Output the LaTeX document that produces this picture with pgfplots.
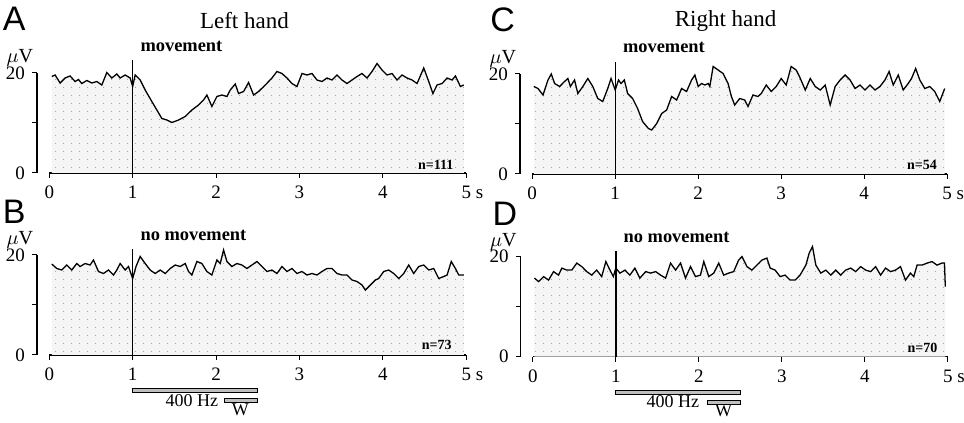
\documentclass[border=0pt]{standalone}
\usepackage{fontspec}
\setmainfont{Liberation Serif}
\newfontfamily\panelfont{Liberation Sans}
\usepackage{pgfplots}
\usepackage{pgfplotstable}
\pgfplotsset{compat=1.18}
\usetikzlibrary{patterns.meta}

% EEG traces, t (s) vs amplitude (muV)
\pgfplotstableread{
t v
0.03 19.3
0.07 19.6
0.13 18.0
0.19 19.0
0.25 19.4
0.31 18.3
0.35 18.7
0.39 17.9
0.45 18.5
0.51 18.0
0.57 18.3
0.63 17.6
0.69 20.1
0.75 19.0
0.81 19.8
0.85 19.0
0.91 19.6
0.97 19.0
1.00 17.3
1.03 19.6
1.09 18.6
1.15 16.6
1.23 14.3
1.29 12.6
1.35 10.9
1.41 10.6
1.47 10.1
1.55 10.6
1.63 11.3
1.71 12.6
1.79 13.6
1.85 14.6
1.89 15.6
1.95 13.3
2.01 15.3
2.07 15.6
2.13 15.3
2.17 16.6
2.23 17.8
2.27 15.9
2.33 16.3
2.39 18.1
2.45 15.6
2.51 16.3
2.59 17.6
2.67 19.0
2.73 20.3
2.79 19.9
2.85 19.0
2.91 17.9
2.97 17.3
3.03 19.9
3.09 19.6
3.15 19.9
3.21 18.6
3.27 18.3
3.33 19.0
3.39 18.6
3.45 19.6
3.51 18.6
3.57 17.9
3.63 18.6
3.69 19.3
3.75 19.9
3.81 19.0
3.87 20.3
3.93 21.9
3.99 20.6
4.05 19.6
4.11 19.9
4.17 18.6
4.23 19.6
4.29 19.0
4.35 18.6
4.41 17.9
4.49 21.0
4.55 18.3
4.60 15.9
4.65 17.6
4.71 17.9
4.77 19.0
4.83 18.6
4.87 19.4
4.93 17.3
4.97 17.6
}\dataA

\pgfplotstableread{
t v
0.03 18.2
0.09 17.3
0.15 17.0
0.21 18.0
0.27 17.0
0.33 18.3
0.37 17.7
0.43 18.3
0.49 18.0
0.53 19.0
0.59 16.7
0.65 16.3
0.71 17.0
0.77 16.0
0.81 17.0
0.85 18.3
0.91 17.0
0.95 17.7
1.00 15.3
1.04 17.7
1.09 19.7
1.15 18.3
1.21 17.0
1.27 16.3
1.33 17.0
1.39 16.3
1.45 17.3
1.51 18.0
1.57 17.7
1.63 18.3
1.67 16.7
1.71 16.0
1.77 18.7
1.83 18.3
1.89 16.7
1.95 16.0
2.01 19.0
2.05 18.3
2.09 21.0
2.13 18.7
2.19 17.7
2.25 18.3
2.31 18.0
2.37 17.3
2.43 18.0
2.49 18.7
2.55 17.7
2.61 16.7
2.67 17.0
2.73 16.3
2.79 17.7
2.85 16.7
2.91 17.3
2.97 16.3
3.03 16.7
3.09 16.0
3.15 16.3
3.21 16.0
3.27 16.7
3.33 17.3
3.39 17.3
3.45 16.3
3.51 16.0
3.57 16.0
3.63 15.0
3.69 14.7
3.75 14.0
3.79 13.0
3.85 14.0
3.91 15.0
3.95 15.3
4.01 16.7
4.07 17.0
4.13 16.3
4.19 15.3
4.25 16.3
4.31 18.0
4.37 16.3
4.43 17.7
4.49 18.0
4.55 17.0
4.61 17.3
4.67 15.3
4.73 15.7
4.77 16.0
4.82 18.7
4.87 17.3
4.91 16.0
4.97 16.0
}\dataB

\pgfplotstableread{
t v
0.02 17.5
0.07 17.1
0.13 15.8
0.19 18.8
0.23 20.0
0.27 18.1
0.33 17.5
0.39 18.5
0.43 19.1
0.46 17.5
0.51 18.8
0.55 16.1
0.61 17.5
0.67 19.1
0.73 17.5
0.79 15.1
0.85 14.5
0.91 17.1
0.95 19.1
1.00 16.8
1.04 18.8
1.07 18.1
1.11 18.8
1.15 16.1
1.21 15.1
1.27 13.1
1.33 10.5
1.40 9.1
1.44 8.8
1.50 10.1
1.56 12.1
1.62 12.8
1.68 15.5
1.74 14.8
1.80 17.1
1.86 16.5
1.92 18.8
1.96 19.8
2.00 17.5
2.04 18.1
2.08 17.8
2.12 18.1
2.14 17.5
2.18 21.5
2.24 20.8
2.30 20.1
2.36 18.1
2.40 15.5
2.44 13.8
2.50 15.1
2.56 14.8
2.60 13.5
2.66 15.8
2.72 15.5
2.76 16.1
2.82 17.8
2.88 16.5
2.94 17.5
3.00 19.1
3.06 17.8
3.12 21.5
3.18 20.8
3.22 19.5
3.29 16.8
3.35 19.1
3.41 17.5
3.47 16.8
3.53 17.8
3.59 13.8
3.65 17.5
3.71 18.8
3.77 19.8
3.83 18.8
3.89 17.1
3.95 17.8
4.01 16.8
4.07 17.8
4.13 16.8
4.19 17.5
4.25 18.8
4.30 20.5
4.35 17.8
4.41 19.8
4.47 16.8
4.53 18.1
4.57 19.1
4.62 21.1
4.67 18.8
4.73 17.1
4.79 17.5
4.85 16.5
4.91 14.5
4.97 17.1
}\dataC

\pgfplotstableread{
t v
0.02 15.7
0.07 15.0
0.13 16.0
0.19 15.3
0.25 17.0
0.31 16.3
0.35 17.7
0.41 17.3
0.47 17.3
0.53 18.7
0.59 18.0
0.65 17.0
0.71 16.3
0.77 17.3
0.83 16.0
0.88 19.0
0.93 17.3
0.97 16.0
1.00 17.7
1.05 16.7
1.11 17.3
1.17 16.3
1.23 17.7
1.29 15.7
1.36 17.0
1.42 16.7
1.48 17.0
1.54 16.3
1.60 15.7
1.66 18.7
1.72 17.3
1.78 18.7
1.84 15.7
1.90 18.0
1.96 16.0
2.02 16.3
2.06 19.0
2.12 16.0
2.18 16.7
2.24 18.7
2.30 16.3
2.36 16.7
2.42 17.0
2.48 19.3
2.52 20.0
2.58 18.0
2.64 17.3
2.70 18.3
2.76 19.3
2.82 19.7
2.86 17.7
2.92 17.3
2.98 16.0
3.04 16.3
3.10 15.3
3.16 15.3
3.22 16.3
3.29 18.3
3.33 20.7
3.37 22.0
3.41 18.3
3.47 16.7
3.53 17.3
3.59 16.3
3.65 17.3
3.71 16.3
3.77 17.3
3.83 17.7
3.89 17.0
3.95 18.0
4.01 17.3
4.07 17.0
4.13 18.0
4.19 16.3
4.25 17.7
4.31 17.0
4.37 17.3
4.43 18.0
4.49 15.3
4.55 16.7
4.59 16.0
4.63 18.3
4.69 18.3
4.75 18.7
4.81 19.0
4.87 18.3
4.93 18.7
4.96 18.7
4.97 14.0
}\dataD

\pgfplotsset{
  eeg/.style={
    y=2.5pt, xmin=-0.147, xmax=5, ymin=0, ymax=20,
    clip=false, scale only axis,
    axis x line=bottom, axis y line=left,
    axis line style={-, line width=0.6pt},
    x axis line style={shorten <=6.1pt},
    xtick={0,1,2,3,4,5}, xticklabels={0,1,2,3,4,{5\rlap{ s}}},
    minor x tick num=4,
    ytick={0,10,20}, yticklabels={0,,20},
    tick align=outside,
    major tick length=2.5pt, minor tick length=1.6pt,
    tick style={black, line width=0.5pt},
    minor x tick style={yshift=1.6pt},
    tick label style={font=\fontsize{9.5}{10}\selectfont},
    xticklabel style={yshift=-0.5pt},
  },
  area/.style={draw=none, fill=gray!8,
    postaction={pattern={Dots[distance=4pt, radius=0.3pt]}, pattern color=gray!75}},
  line/.style={black, line width=0.65pt, mark=none},
}
\tikzset{
  panel/.style={anchor=base west, inner sep=0pt, text depth=0pt, font=\panelfont\fontsize{17}{17}\selectfont},
  cond/.style={anchor=base west, inner sep=0pt, font=\bfseries\fontsize{9.2}{10}\selectfont},
  ttl/.style={anchor=base, inner sep=0pt, font=\fontsize{11.5}{12}\selectfont},
  unit/.style={anchor=base east, inner sep=0pt, font=\fontsize{10}{10}\selectfont},
  nn/.style={anchor=base east, inner sep=0pt, font=\bfseries\fontsize{7}{8}\selectfont},
  stim/.style={draw=black, line width=0.45pt, fill=gray!50},
  slab/.style={inner sep=0pt, font=\fontsize{9}{10}\selectfont},
}

\begin{document}
\begin{tikzpicture}
\useasboundingbox (0,0) rectangle (482pt,211.5pt);

% A: left hand, movement
\begin{axis}[eeg, x=41.7pt, at={(18.5pt,125pt)}, anchor=south west]
\addplot[area] table {\dataA} \closedcycle;
\addplot[line] table {\dataA};
\addplot[black, line width=0.7pt] coordinates {(1,0) (1,22.6)};
\node[ttl] at (axis cs:2.34,28.8) {Left hand};
\node[cond] at (axis cs:1.09,24.2) {movement};
\node[panel] at (axis cs:-0.56,28.4) {A};
\node[unit] at (axis cs:-0.19,22) {$\mu$V};
\node[nn] at (axis cs:4.85,0.7) {n=111};
\end{axis}

% C: right hand, movement
\begin{axis}[eeg, x=41.5pt, at={(260pt,124.5pt)}, anchor=south west]
\addplot[area] table {\dataC} \closedcycle;
\addplot[line] table {\dataC};
\addplot[black, line width=0.7pt] coordinates {(1,0) (1,22.4)};
\node[ttl] at (axis cs:2.33,29.4) {Right hand};
\node[cond] at (axis cs:1.09,24.2) {movement};
\node[panel] at (axis cs:-0.51,28.4) {C};
\node[unit] at (axis cs:-0.19,22) {$\mu$V};
\node[nn] at (axis cs:4.88,0.8) {n=54};
\end{axis}

% B: left hand, no movement
\begin{axis}[eeg, x=41.7pt, at={(18.5pt,34pt)}, anchor=south west]
\addplot[area] table {\dataB} \closedcycle;
\addplot[line] table {\dataB};
\addplot[black, line width=0.7pt] coordinates {(1,0) (1,21.2)};
\node[cond] at (axis cs:1.09,22.8) {no movement};
\node[panel] at (axis cs:-0.56,26.2) {B};
\node[unit] at (axis cs:-0.19,22) {$\mu$V};
\node[nn] at (axis cs:4.83,1.0) {n=73};
\draw[stim] (axis cs:1,-6.7) rectangle (axis cs:2.5,-7.5);
\draw[stim] (axis cs:2.1,-8.7) rectangle (axis cs:2.5,-9.5);
\node[slab, anchor=base east] at (axis cs:2.03,-10.2) {400 Hz};
\node[slab, anchor=base] at (axis cs:2.29,-12.1) {W};
\end{axis}

% D: right hand, no movement
\begin{axis}[eeg, x=41.5pt, at={(260.3pt,33.2pt)}, anchor=south west]
\addplot[area] table {\dataD} \closedcycle;
\addplot[line] table {\dataD};
\addplot[black, line width=0.7pt] coordinates {(1,0) (1,21.2)};
\node[cond] at (axis cs:1.09,22.8) {no movement};
\node[panel] at (axis cs:-0.49,26.2) {D};
\node[unit] at (axis cs:-0.19,22) {$\mu$V};
\node[nn] at (axis cs:4.88,0.8) {n=70};
\draw[stim] (axis cs:1,-6.8) rectangle (axis cs:2.5,-7.6);
\draw[stim] (axis cs:2.1,-8.8) rectangle (axis cs:2.5,-9.6);
\node[slab, anchor=base east] at (axis cs:2.01,-10.2) {400 Hz};
\node[slab, anchor=base] at (axis cs:2.30,-12) {W};
\end{axis}
\end{tikzpicture}
\end{document}
